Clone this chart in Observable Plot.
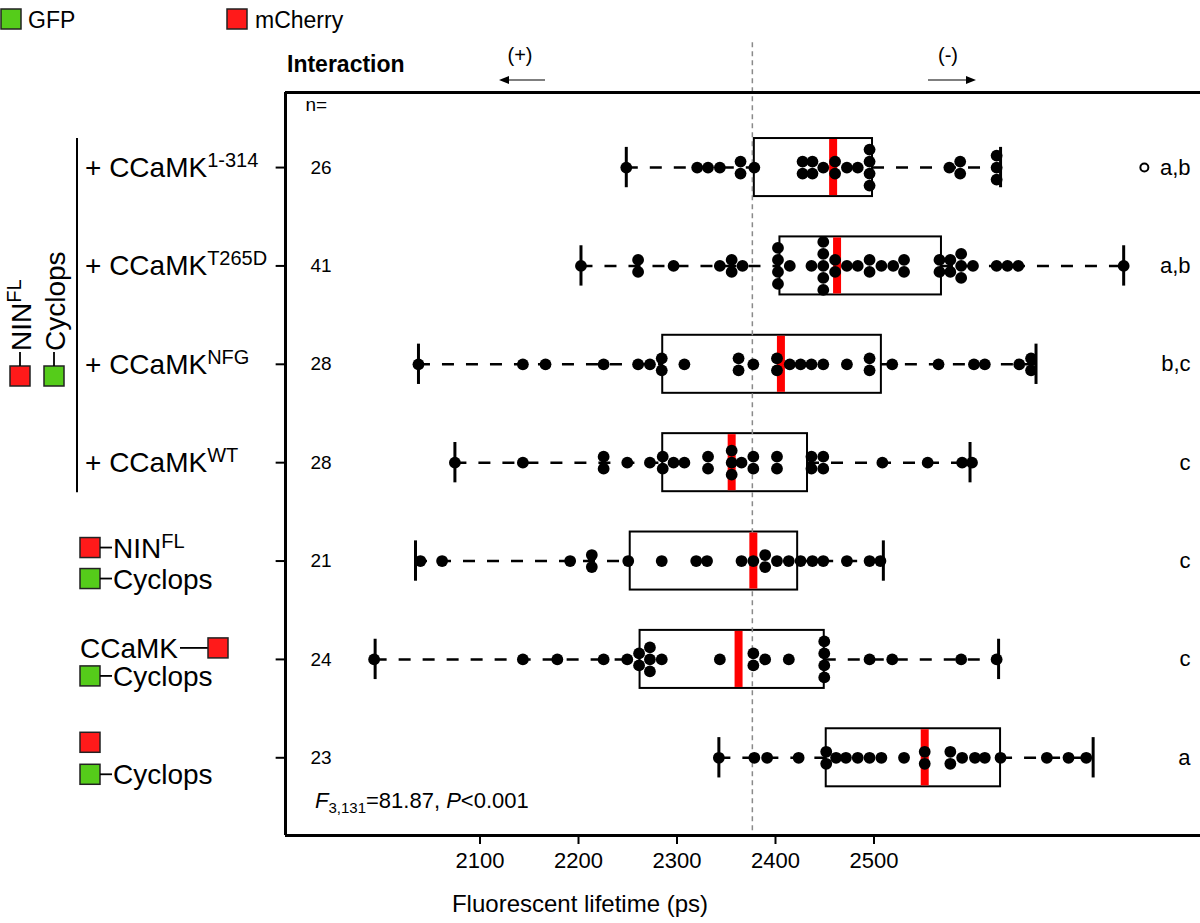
<!DOCTYPE html>
<html><head><meta charset="utf-8">
<script src="https://cdn.jsdelivr.net/npm/d3@7"></script>
<script src="https://cdn.jsdelivr.net/npm/@observablehq/plot@0.6"></script>
<style>body{margin:0;background:#fff;font-family:"Liberation Sans",Arial,sans-serif}</style>
</head><body><div id="chart"></div>
<script>
// ---------- data ----------
const rowIds = [0, 1, 2, 3, 4, 5, 6];
const nCounts = [26, 41, 28, 28, 21, 24, 23];
const groupLetters = ["a,b", "a,b", "b,c", "c", "c", "c", "a"];
const ccamkSuffix = ["1-314", "T265D", "NFG", "WT"];

const lifetimes1314 = [2248, 2320, 2331, 2343, 2364, 2364, 2378, 2427, 2427, 2437, 2437, 2448, 2460, 2460, 2472, 2483, 2495, 2495, 2495, 2495, 2576, 2587, 2587, 2624, 2624, 2624];
const lifetimesT265D = [2202, 2260, 2260, 2296, 2343, 2355, 2355, 2366, 2402, 2402, 2402, 2402, 2414, 2436, 2448, 2448, 2448, 2448, 2448, 2460, 2460, 2472, 2483, 2495, 2495, 2507, 2519, 2530, 2530, 2566, 2566, 2577, 2577, 2588, 2588, 2588, 2600, 2624, 2635, 2646, 2753];
const lifetimesNFG = [2037, 2143, 2166, 2225, 2260, 2272, 2284, 2284, 2307, 2362, 2362, 2377, 2401, 2401, 2414, 2425, 2436, 2448, 2472, 2495, 2495, 2518, 2565, 2601, 2612, 2647, 2659, 2659];
const lifetimesWT = [2074, 2143, 2225, 2225, 2249, 2272, 2285, 2285, 2296, 2307, 2331, 2331, 2355, 2355, 2355, 2365, 2377, 2377, 2401, 2401, 2436, 2436, 2448, 2448, 2508, 2554, 2589, 2599];
const lifetimesNIN = [2039, 2061, 2191, 2213, 2213, 2250, 2284, 2319, 2330, 2365, 2377, 2389, 2389, 2401, 2413, 2425, 2437, 2448, 2472, 2495, 2506];
const lifetimesCCaMK = [1992, 2143, 2178, 2225, 2249, 2261, 2261, 2272, 2272, 2272, 2284, 2343, 2377, 2377, 2389, 2413, 2449, 2449, 2449, 2449, 2495, 2518, 2588, 2624];
const lifetimesEmpty = [2342, 2378, 2391, 2423, 2451, 2451, 2461, 2471, 2483, 2495, 2507, 2530, 2551, 2551, 2577, 2577, 2589, 2602, 2612, 2628, 2675, 2697, 2715];

const boxLower = [2378, 2404, 2285, 2285, 2252, 2262, 2451];
const boxUpper = [2498, 2568, 2507, 2432, 2422, 2449, 2628];
const medians = [2458, 2462, 2405, 2355, 2377, 2362, 2551];
const whiskerLow = [2248, 2202, 2037, 2074, 2034, 1993, 2342];
const whiskerHigh = [2628, 2753, 2664, 2597, 2509, 2626, 2722];
const outlierRows = [0];
const outlierValues = [2774];
const referenceLifetime = 2376;
const xTicks = [2100, 2200, 2300, 2400, 2500];

// ---------- derived tables ----------
const series = [lifetimes1314, lifetimesT265D, lifetimesNFG, lifetimesWT, lifetimesNIN, lifetimesCCaMK, lifetimesEmpty];
const dotStep = 0.122; // vertical stacking step, in row units
const points = series.flatMap((vals, row) => {
  const counts = d3.rollup(vals, v => v.length, v => v);
  const seen = new Map();
  return vals.map(v => {
    const n = counts.get(v), k = seen.get(v) || 0;
    seen.set(v, k + 1);
    return {row, value: v, y: row + (k - (n - 1) / 2) * dotStep};
  });
});
const boxes = rowIds.map(i => ({
  row: i, lower: boxLower[i], upper: boxUpper[i], median: medians[i],
  wlo: whiskerLow[i], whi: whiskerHigh[i], n: String(nCounts[i]), letter: groupLetters[i]
}));
const outliers = outlierRows.map((r, i) => ({row: r, value: outlierValues[i]}));

const xDomain = [1902, 2831];
const yDomain = [-0.763, 6.79];
const halfBox = 0.295, halfCap = 0.205, halfMed = 0.285;

const plot = Plot.plot({
  width: 1200, height: 923,
  marginTop: 92, marginBottom: 88, marginLeft: 285, marginRight: 0,
  style: {fontFamily: '"Liberation Sans", Arial, sans-serif', background: "white", overflow: "visible"},
  x: {type: "linear", domain: xDomain, axis: null},
  y: {type: "linear", domain: yDomain, reverse: true, axis: null},
  marks: [
    Plot.rect(boxes, {x1: "lower", x2: "upper", y1: d => d.row - halfBox, y2: d => d.row + halfBox, fill: "none", stroke: "black", strokeWidth: 2}),
    Plot.ruleX([referenceLifetime], {y1: -1.27, y2: yDomain[1], stroke: "#8a8a8a", strokeWidth: 1.5, strokeDasharray: "5,4"}),
    Plot.ruleY(boxes, {y: "row", x1: "wlo", x2: "lower", stroke: "black", strokeWidth: 2.5, strokeDasharray: "12,12"}),
    Plot.ruleY(boxes, {y: "row", x1: "upper", x2: "whi", stroke: "black", strokeWidth: 2.5, strokeDasharray: "12,12"}),
    Plot.ruleX(boxes, {x: "wlo", y1: d => d.row - halfCap, y2: d => d.row + halfCap, stroke: "black", strokeWidth: 3}),
    Plot.ruleX(boxes, {x: "whi", y1: d => d.row - halfCap, y2: d => d.row + halfCap, stroke: "black", strokeWidth: 3}),
    Plot.ruleX(boxes, {x: "median", y1: d => d.row - halfMed, y2: d => d.row + halfMed, stroke: "#ff0000", strokeWidth: 8}),
    Plot.dot(points, {x: "value", y: "y", r: 5.9, fill: "black"}),
    Plot.dot(outliers, {x: "value", y: "row", r: 4, fill: "white", stroke: "black", strokeWidth: 2}),
    // frame (top, bottom, left)
    Plot.ruleY([yDomain[0], yDomain[1]], {stroke: "black", strokeWidth: 3}),
    Plot.ruleX([xDomain[0]], {stroke: "black", strokeWidth: 3}),
    // left ticks at rows
    Plot.ruleY(rowIds, {y: d => d, x1: xDomain[0] - 9.5, x2: xDomain[0], stroke: "black", strokeWidth: 2}),
    Plot.text(boxes, {y: "row", text: "n", frameAnchor: "left", dx: 25, textAnchor: "start", fontSize: 19}),
    Plot.text(["n="], {frameAnchor: "top-left", dx: 20, dy: 5, textAnchor: "start", lineAnchor: "top", fontSize: 19}),
    Plot.text(boxes, {y: "row", text: "letter", frameAnchor: "right", dx: -10, textAnchor: "end", fontSize: 22}),
  ]
});
document.getElementById("chart").appendChild(plot);

// ---------- annotations outside the frame ----------
const svg = d3.select(plot);
const ys = plot.scale("y"), xs = plot.scale("x");
const Y = r => ys.apply(r), X = v => xs.apply(v);
const FONT = '"Liberation Sans", Arial, sans-serif';
const RED = "#ff1a1a", GREEN = "#55cc1a";
const LS = 28, SUP = 20; // label font sizes
const g = svg.append("g").attr("font-family", FONT).attr("fill", "black").attr("text-anchor", "start");

// bottom axis from the x scale
const yBottom = Y(yDomain[1]);
xTicks.forEach(t => {
  g.append("line").attr("x1", X(t)).attr("x2", X(t)).attr("y1", yBottom).attr("y2", yBottom + 9).attr("stroke", "black").attr("stroke-width", 2);
  g.append("text").attr("x", X(t)).attr("y", yBottom + 33).attr("font-size", 22).attr("text-anchor", "middle").text(String(t));
});

function square(x, y, color) {
  g.append("rect").attr("x", x).attr("y", y).attr("width", 20).attr("height", 20)
    .attr("fill", color).attr("stroke", "#222").attr("stroke-width", 1.5);
}
function hline(x1, x2, y) {
  g.append("line").attr("x1", x1).attr("x2", x2).attr("y1", y).attr("y2", y).attr("stroke", "black").attr("stroke-width", 1.8);
}
function supText(x, y, base, sup) {
  const t = g.append("text").attr("x", x).attr("y", y).attr("font-size", LS).attr("text-anchor", "start");
  t.append("tspan").text(base);
  if (sup) t.append("tspan").attr("dy", -10).attr("font-size", SUP).text(sup);
  return t;
}

// legend
square(1, 9, GREEN);
g.append("text").attr("x", 28).attr("y", 28).attr("font-size", 23).text("GFP");
square(227, 9, RED);
g.append("text").attr("x", 255).attr("y", 28).attr("font-size", 23).text("mCherry");

// interaction header and arrows
g.append("text").attr("x", 287).attr("y", 72).attr("font-size", 23).attr("font-weight", "bold").text("Interaction");
g.append("text").attr("x", 520).attr("y", 62).attr("font-size", 20).attr("text-anchor", "middle").text("(+)");
g.append("text").attr("x", 948).attr("y", 62).attr("font-size", 20).attr("text-anchor", "middle").text("(-)");
g.append("line").attr("x1", 545).attr("x2", 504).attr("y1", 80).attr("y2", 80).attr("stroke", "black").attr("stroke-width", 1.2);
g.append("path").attr("d", "M499,80 L509,76 L509,84 Z");
g.append("line").attr("x1", 928).attr("x2", 971).attr("y1", 80).attr("y2", 80).attr("stroke", "black").attr("stroke-width", 1.2);
g.append("path").attr("d", "M976,80 L966,76 L966,84 Z");

// CCaMK variant labels
ccamkSuffix.forEach((s, i) => supText(85, Y(i) + 10, "+ CCaMK", s));
g.append("line").attr("x1", 77).attr("x2", 77).attr("y1", Y(0) - 29).attr("y2", Y(3) + 30).attr("stroke", "black").attr("stroke-width", 2);

// rotated NIN / Cyclops
const midY = 366;
square(10, midY, RED);
square(44, midY, GREEN);
g.append("line").attr("x1", 20).attr("x2", 20).attr("y1", midY).attr("y2", midY - 14).attr("stroke", "black").attr("stroke-width", 1.8);
g.append("line").attr("x1", 54).attr("x2", 54).attr("y1", midY).attr("y2", midY - 14).attr("stroke", "black").attr("stroke-width", 1.8);
const rt1 = g.append("text").attr("transform", `translate(31,${midY - 15}) rotate(-90)`).attr("font-size", LS);
rt1.append("tspan").text("NIN");
rt1.append("tspan").attr("dy", -10).attr("font-size", SUP).text("FL");
g.append("text").attr("transform", `translate(65,${midY - 15}) rotate(-90)`).attr("font-size", LS).text("Cyclops");

// row 5: NIN + Cyclops
square(80, Y(4) - 23, RED); hline(100, 112, Y(4) - 13);
supText(113, Y(4) - 3, "NIN", "FL");
square(80, Y(4) + 8, GREEN); hline(100, 112, Y(4) + 18);
g.append("text").attr("x", 113).attr("y", Y(4) + 28).attr("font-size", LS).text("Cyclops");

// row 6: CCaMK + Cyclops
g.append("text").attr("x", 80).attr("y", Y(5) - 1).attr("font-size", LS).text("CCaMK");
hline(180, 208, Y(5) - 11);
square(208, Y(5) - 21, RED);
square(80, Y(5) + 7, GREEN); hline(100, 112, Y(5) + 17);
g.append("text").attr("x", 113).attr("y", Y(5) + 27).attr("font-size", LS).text("Cyclops");

// row 7: empty mCherry + Cyclops
square(80, Y(6) - 25, RED);
square(80, Y(6) + 7, GREEN); hline(100, 112, Y(6) + 17);
g.append("text").attr("x", 113).attr("y", Y(6) + 27).attr("font-size", LS).text("Cyclops");

// statistics
const st = g.append("text").attr("x", 315).attr("y", 808).attr("font-size", 22);
st.append("tspan").attr("font-style", "italic").text("F");
st.append("tspan").attr("dy", 5).attr("font-size", 15).text("3,131");
st.append("tspan").attr("dy", -5).text("=81.87, ");
st.append("tspan").attr("font-style", "italic").text("P");
st.append("tspan").text("<0.001");

// x axis title
g.append("text").attr("x", 580).attr("y", 912).attr("font-size", 24).attr("text-anchor", "middle").text("Fluorescent lifetime (ps)");
</script>
</body></html>
